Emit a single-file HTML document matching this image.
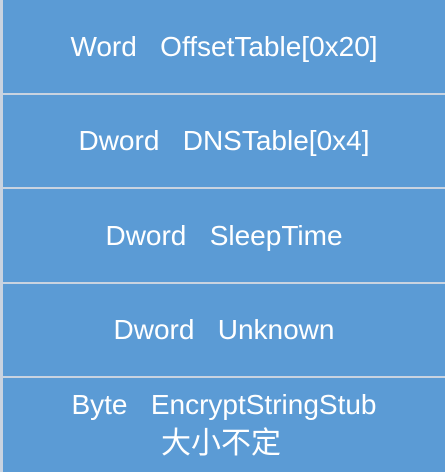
<!DOCTYPE html>
<html><head><meta charset="utf-8">
<style>
html,body{margin:0;padding:0;}
body{width:445px;height:472px;background:#c9d3e0;position:relative;overflow:hidden;}
.box{position:absolute;left:3px;width:442px;background:#5b9bd5;color:#fff;
font-family:"Liberation Sans","Noto Sans CJK SC",sans-serif;font-size:28px;
display:flex;flex-direction:column;align-items:center;justify-content:center;white-space:pre;}
</style></head><body>
<div class="box" style="top:0;height:93px;">Word   OffsetTable[0x20]</div>
<div class="box" style="top:95px;height:92px;">Dword   DNSTable[0x4]</div>
<div class="box" style="top:189px;height:93px;">Dword   SleepTime</div>
<div class="box" style="top:284px;height:92px;">Dword   Unknown</div>
<div class="box" style="top:378px;height:94px;justify-content:flex-start;">
<div style="margin-top:12px;line-height:30px;">Byte   EncryptStringStub</div>
<div style="font-size:30px;line-height:36px;margin-left:-6px;margin-top:6px;">大小不定</div>
</div>
</body></html>
